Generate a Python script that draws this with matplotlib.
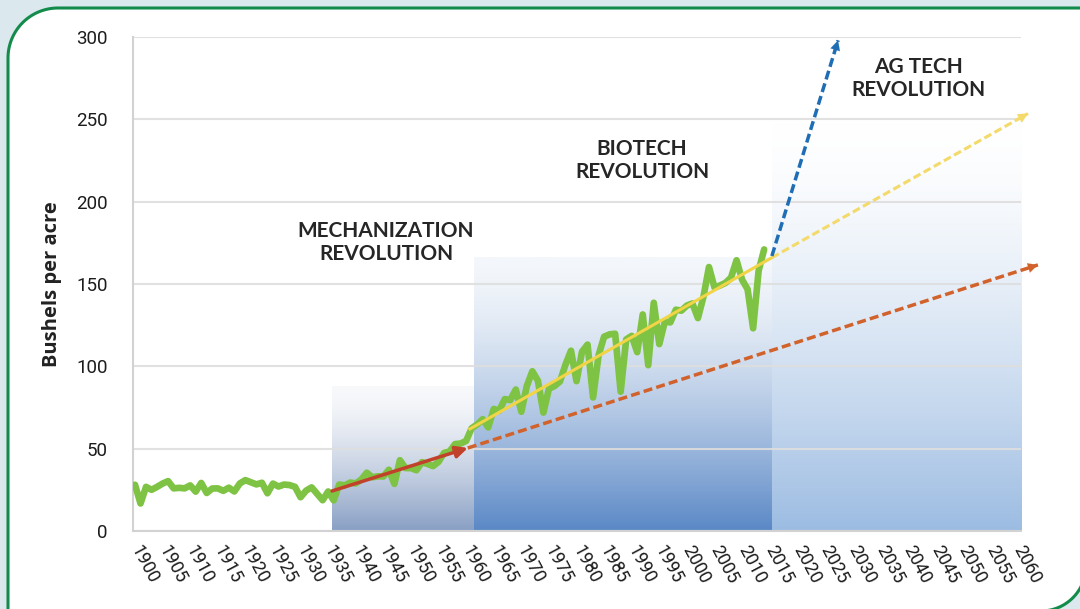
import numpy as np
import matplotlib
matplotlib.use("Agg")
import matplotlib.pyplot as plt
from matplotlib.path import Path
from matplotlib.patches import PathPatch
from matplotlib.colors import to_rgb

# US corn yield, bushels per acre
years = list(range(1900, 2015))
yields = [28.1, 16.7, 26.8, 25.0, 26.8, 28.8, 30.3, 25.9, 26.2, 25.9,
          27.7, 23.9, 29.2, 23.1, 25.8, 25.9, 24.4, 26.3, 24.0, 28.9,
          30.9, 29.6, 28.3, 29.3, 22.9, 28.8, 27.0, 28.2, 27.9, 26.8,
          20.5, 24.5, 26.5, 22.6, 18.7, 24.0, 18.6, 28.2, 27.7, 29.4,
          28.9, 31.2, 35.4, 32.6, 33.2, 33.1, 37.2, 28.6, 43.0, 38.2,
          38.2, 36.9, 41.8, 40.7, 39.4, 42.0, 47.4, 48.3, 52.8, 53.1,
          54.7, 62.4, 64.7, 67.9, 62.9, 74.1, 73.1, 80.1, 79.5, 85.9,
          72.4, 88.1, 97.0, 91.3, 71.9, 86.4, 88.0, 90.8, 101.0, 109.5,
          91.0, 108.9, 113.2, 81.1, 106.7, 118.0, 119.4, 119.8, 84.6, 116.3,
          118.5, 108.6, 131.5, 100.7, 138.6, 113.5, 127.1, 126.7, 134.4, 133.8,
          136.9, 138.2, 129.3, 142.2, 160.3, 147.9, 149.1, 150.7, 153.9, 164.4,
          152.6, 146.8, 123.1, 158.1, 171.0]

# trend arrows (start, end)
mech_x, mech_y = [1935.7, 1960.3], [24.3, 50.4]
mech_proj_x, mech_proj_y = [1960.3, 2063.6], [50.4, 161.6]
bio_x, bio_y = [1960.7, 2015.4], [62.0, 166.0]
bio_proj_x, bio_proj_y = [2015.4, 2061.8], [166.0, 253.5]
agtech_x, agtech_y = [2015.4, 2027.4], [167.0, 298.0]

# shaded eras: (start year, end year, top value, top colour, bottom colour)
eras = [(1935.7, 1961.4, 88, "#f8f9fb", "#889fc4"),
        (1961.4, 2015.4, 166, "#f4f7fb", "#5a88c6"),
        (2015.4, 2060.54, 248, "#ffffff", "#9cbce2")]

era_labels = ["MECHANIZATION\nREVOLUTION", "BIOTECH\nREVOLUTION", "AG TECH\nREVOLUTION"]
era_label_x = [1945.5, 1991.9, 2041.9]
era_label_y = [175, 225, 275]

fig = plt.figure(figsize=(10.8, 6.09), dpi=100, facecolor="#dbe8ed")

# card with two rounded corners
W, H = 1080.0, 609.0
r1, r2 = 50, 45
L, T, R, B = 8, 601, 1086, -2
verts = [(L, -20), (L, T - r1)]
for a in np.linspace(np.pi, np.pi / 2, 30):
    verts.append((L + r1 + r1 * np.cos(a), T - r1 + r1 * np.sin(a)))
verts += [(R, T), (R, B + r2)]
for a in np.linspace(0, -np.pi / 2, 30):
    verts.append((R - r2 + r2 * np.cos(a), B + r2 + r2 * np.sin(a)))
verts += [(L, B - 18), (L, -20)]
verts = [(x / W, y / H) for x, y in verts]
card = PathPatch(Path(verts), facecolor="white", edgecolor="#138c4b", lw=2.2,
                 transform=fig.transFigure, zorder=-1)
fig.add_artist(card)

ax = fig.add_axes([133 / W, 78 / H, 888 / W, 494 / H])
ax.set_facecolor("none")

for x0, x1, top, c_top, c_bot in eras:
    t = np.array(to_rgb(c_top))
    b = np.array(to_rgb(c_bot))
    f = np.linspace(0, 1, 256)[:, None] ** 1.5
    grad = (t * (1 - f) + b * f)[:, None, :]
    ax.imshow(grad, extent=[x0, x1, 0, top], aspect="auto", zorder=0.2,
              interpolation="bilinear")

ax.plot(years, yields, color="#7ec343", lw=4.8, solid_joinstyle="round",
        solid_capstyle="round", zorder=3)

# mechanization trend
ax.annotate("", xy=(mech_x[1], mech_y[1]), xytext=(mech_x[0], mech_y[0]),
            arrowprops=dict(arrowstyle="-|>,head_length=0.5,head_width=0.25",
                            color="#c2412a", lw=2.5, shrinkA=0, shrinkB=0,
                            mutation_scale=14), zorder=4)
ax.plot(mech_proj_x, mech_proj_y, color="#d2622c", lw=2.5, dashes=(2.6, 1.2),
        clip_on=False, zorder=4)
# biotech trend
ax.plot(bio_x, bio_y, color="#f2d447", lw=2.2, clip_on=False, zorder=4)
ax.plot(bio_proj_x, bio_proj_y, color="#f3da6a", lw=2.2, dashes=(2.6, 1.2),
        clip_on=False, zorder=4)
# ag tech trend
ax.plot(agtech_x, agtech_y, color="#1f6db4", lw=2.5, dashes=(2.6, 1.2),
        clip_on=False, zorder=5)

for xs, ys, c in [(mech_proj_x, mech_proj_y, "#d2622c"),
                  (bio_proj_x, bio_proj_y, "#f3da6a"),
                  (agtech_x, agtech_y, "#1f6db4")]:
    tail = (xs[1] - 0.03 * (xs[1] - xs[0]), ys[1] - 0.03 * (ys[1] - ys[0]))
    ax.annotate("", xy=(xs[1], ys[1]), xytext=tail,
                arrowprops=dict(arrowstyle="-|>,head_length=0.5,head_width=0.25",
                                color=c, lw=0.1, shrinkA=0, shrinkB=0,
                                mutation_scale=14),
                annotation_clip=False, zorder=5)

for txt, x, y in zip(era_labels, era_label_x, era_label_y):
    ax.text(x, y, txt, ha="center", va="center", fontsize=15, family="Lato",
            fontweight="bold", color="#262626", linespacing=1.2, zorder=6)

ax.set_xlim(1899.64, 2060.54)
ax.set_ylim(0, 300)
ax.set_yticks(range(0, 301, 50))
ax.set_xticks(range(1900, 2061, 5))
ax.set_yticklabels([str(v) for v in range(0, 301, 50)], family="Roboto",
                   fontsize=13.5, color="#1c1c1c")
ax.set_xticklabels([str(v) for v in range(1900, 2061, 5)], rotation=-62,
                   ha="left", va="center", rotation_mode="anchor",
                   family="Roboto", fontsize=13, color="#1c1c1c")
ax.tick_params(axis="y", length=0, pad=18)
ax.tick_params(axis="x", length=0, pad=11)

ax.set_axisbelow(True)
ax.grid(axis="y", color="#dedede", lw=1.5, alpha=0.9)
ax.grid(axis="x", visible=False)
for s in ["top", "right"]:
    ax.spines[s].set_visible(False)
for s in ["left", "bottom"]:
    ax.spines[s].set_color("#d2d2d2")
    ax.spines[s].set_linewidth(1.5)

ax.set_ylabel("Bushels per acre", family="Open Sans", fontweight="bold",
              fontsize=14.5, color="#222222")
ax.yaxis.set_label_coords(-0.080, 0.5)

fig.savefig("out.png", dpi=100, facecolor=fig.get_facecolor())
